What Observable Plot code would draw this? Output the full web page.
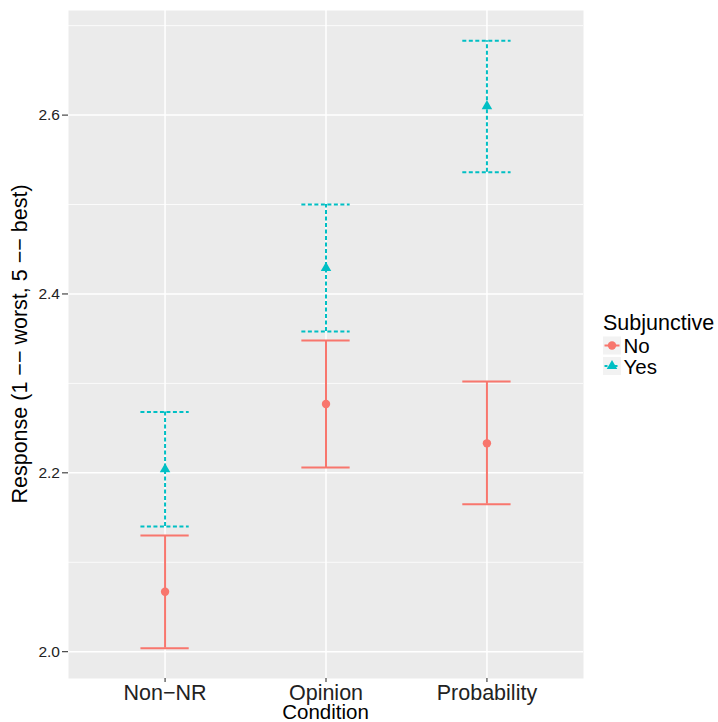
<!DOCTYPE html>
<html><head><meta charset="utf-8">
<script src="https://cdn.jsdelivr.net/npm/d3@7"></script>
<script src="https://cdn.jsdelivr.net/npm/@observablehq/plot@0.6"></script>
<style>
body{margin:0;background:#fff;}
svg{display:block;font-family:"Liberation Sans",Arial,sans-serif;}
</style>
</head><body><div id="chart"></div>
<script>
// ---- data ----
const conditions = ["Non−NR", "Opinion", "Probability"];
const groups = ["No", "Yes"];
const meanNo  = [2.067, 2.277, 2.233];
const lowNo   = [2.004, 2.206, 2.165];
const highNo  = [2.130, 2.348, 2.302];
const meanYes = [2.204, 2.429, 2.610];
const lowYes  = [2.140, 2.358, 2.536];
const highYes = [2.268, 2.500, 2.683];
const yTicks = [2.0, 2.2, 2.4, 2.6];
const yMinor = [2.1, 2.3, 2.5, 2.7];
const colors = ["#F8766D", "#00BFC4"];
const xTitle = "Condition";
const yTitle = "Response (1 −− worst, 5 −− best)";
const legendTitle = "Subjunctive";

// ---- table ----
const rows = [];
conditions.forEach((c, i) => {
  rows.push({condition: c, pos: i + 1, group: "No", mean: meanNo[i], lo: lowNo[i], hi: highNo[i]});
  rows.push({condition: c, pos: i + 1, group: "Yes", mean: meanYes[i], lo: lowYes[i], hi: highYes[i]});
});
const noRows = rows.filter(d => d.group === "No");
const yesRows = rows.filter(d => d.group === "Yes");
const yMin = d3.min(rows, d => d.lo), yMax = d3.max(rows, d => d.hi);
const yPad = (yMax - yMin) * 0.05;
const capHalf = 0.15;

const W = 718, H = 722, mL = 68, mR = 135, mT = 10, mB = 44;
const lineW = 2, dash = "4,2.5";

function bars(data, color, dashed) {
  const o = {stroke: color, strokeWidth: lineW};
  if (dashed) o.strokeDasharray = dash;
  return [
    Plot.ruleX(data, {x: "pos", y1: "lo", y2: "hi", ...o}),
    Plot.ruleY(data, {y: "hi", x1: d => d.pos - capHalf, x2: d => d.pos + capHalf, ...o}),
    Plot.ruleY(data, {y: "lo", x1: d => d.pos - capHalf, x2: d => d.pos + capHalf, ...o})
  ];
}

const chart = Plot.plot({
  width: W, height: H,
  marginLeft: mL, marginRight: mR, marginTop: mT, marginBottom: mB,
  style: {fontFamily: '"Liberation Sans", Arial, sans-serif', background: "#fff"},
  x: {type: "linear", domain: [0.4, conditions.length + 0.6]},
  y: {domain: [yMin - yPad, yMax + yPad]},
  marks: [
    Plot.frame({fill: "#EBEBEB", stroke: null}),
    Plot.ruleY(yMinor, {stroke: "#fff", strokeWidth: 0.8}),
    Plot.ruleY(yTicks, {stroke: "#fff", strokeWidth: 1.5}),
    Plot.ruleX(d3.range(1, conditions.length + 1), {stroke: "#fff", strokeWidth: 1.5}),
    ...bars(noRows, colors[0], false),
    ...bars(yesRows, colors[1], true),
    Plot.dot(noRows, {x: "pos", y: "mean", fill: colors[0], stroke: null, r: 4.2, symbol: "circle"}),
    Plot.dot(yesRows, {x: "pos", y: "mean", fill: colors[1], stroke: null, r: 3.9, symbol: "triangle"}),
    Plot.axisX(d3.range(1, conditions.length + 1), {
      tickFormat: i => conditions[i - 1], tickSize: 4, tickPadding: 2.5,
      fontSize: 21.5, label: null, color: "#222"
    }),
    Plot.axisY(yTicks, {
      tickFormat: d3.format(".1f"), tickSize: 6, tickPadding: 2.5,
      fontSize: 15.5, label: null, color: "#222"
    })
  ]
});
document.getElementById("chart").appendChild(chart);

// ---- titles & legend ----
const svg = d3.select(chart);
const font = '"Liberation Sans", Arial, sans-serif';
svg.append("text").attr("x", mL + (W - mL - mR) / 2).attr("y", 718.5)
  .attr("text-anchor", "middle").attr("font-size", 20.5).attr("fill", "#000")
  .attr("font-family", font).text(xTitle);
svg.append("text").attr("transform", `translate(27,${mT + (H - mT - mB) / 2}) rotate(-90)`)
  .attr("text-anchor", "middle").attr("font-size", 21.5).attr("fill", "#000")
  .attr("font-family", font).text(yTitle);

const lg = svg.append("g").attr("font-family", font).attr("text-anchor", "start");
lg.append("text").attr("x", 603).attr("y", 329.5).attr("font-size", 21.5).attr("fill", "#000").text(legendTitle);
groups.forEach((g, i) => {
  const top = 336.5 + i * 20.5;
  const cy = top + 9;
  lg.append("rect").attr("x", 603).attr("y", top).attr("width", 18).attr("height", 18).attr("fill", "#F2F2F2");
  const ln = lg.append("line").attr("x1", 604.5).attr("x2", 619.5).attr("y1", cy).attr("y2", cy)
    .attr("stroke", colors[i]).attr("stroke-width", lineW);
  if (i === 1) ln.attr("stroke-dasharray", "3,2");
  const sym = i === 0 ? d3.symbol(d3.symbolCircle, Math.PI * 4.2 * 4.2) : d3.symbol(d3.symbolTriangle, Math.PI * 3.9 * 3.9);
  lg.append("path").attr("d", sym()).attr("transform", `translate(612,${cy})`).attr("fill", colors[i]);
  lg.append("text").attr("x", 623.5).attr("y", cy + 7.5).attr("font-size", 20.5).attr("fill", "#000").text(g);
});
</script>
</body></html>
